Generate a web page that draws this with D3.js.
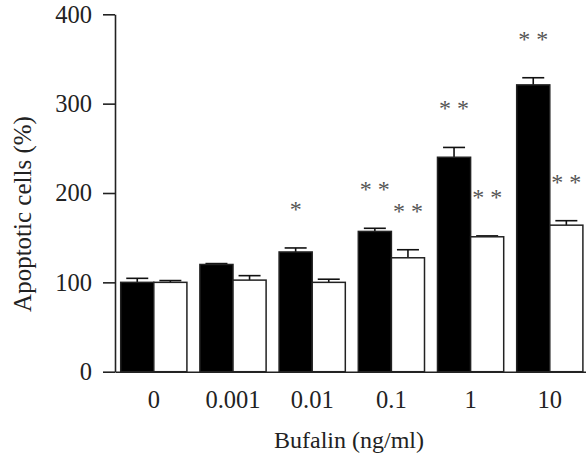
<!DOCTYPE html>
<html>
<head>
<meta charset="utf-8">
<script src="https://cdn.jsdelivr.net/npm/d3@7"></script>
<style>
  body { margin: 0; background: #fff; }
  svg text { font-family: "Liberation Serif", "Times New Roman", serif; fill: #222; }
</style>
</head>
<body>
<div id="chart"></div>
<script>
// Bufalin doses (x categories)
const doses = ["0", "0.001", "0.01", "0.1", "1", "10"];
const series = ["black", "white"];

// Apoptotic cells (%), mean and upper error
const blackValues = [100, 120, 134, 157, 240, 321];
const blackErrors = [4.5, 1, 4.5, 3.5, 11, 8];
const whiteValues = [100, 102.5, 100, 127.5, 151, 164];
const whiteErrors = [2, 5, 3.5, 9, 1, 5];

// significance marks above each bar
const blackStars = ["", "", "*", "* *", "* *", "* *"];
const whiteStars = ["", "", "", "* *", "* *", "* *"];

const yTicks = [0, 100, 200, 300, 400];

const width = 586;
const height = 456;

const svg = d3.select("#chart")
  .append("svg")
  .attr("width", width)
  .attr("height", height);

const x = d3.scaleBand()
  .domain(doses)
  .range([115, 588.6])
  .paddingInner(0.164)
  .paddingOuter(0.072);

const xInner = d3.scaleBand()
  .domain(series)
  .range([0, x.bandwidth()]);

const y = d3.scaleLinear()
  .domain([0, 400])
  .range([371.7, 14.3]);

// build rows for the bars
const rows = [];
doses.forEach((d, i) => {
  rows.push({ dose: d, s: "black", v: blackValues[i], e: blackErrors[i], star: blackStars[i] });
  rows.push({ dose: d, s: "white", v: whiteValues[i], e: whiteErrors[i], star: whiteStars[i] });
});

const barX = (d) => x(d.dose) + xInner(d.s);
const bw = xInner.bandwidth();

// error bars (upper only)
const err = svg.append("g")
  .attr("stroke", "#111")
  .attr("stroke-width", 1.6);

err.selectAll("line.stem")
  .data(rows)
  .enter()
  .append("line")
  .attr("x1", (d) => barX(d) + bw / 2)
  .attr("x2", (d) => barX(d) + bw / 2)
  .attr("y1", (d) => y(d.v))
  .attr("y2", (d) => y(d.v + d.e));

err.selectAll("line.cap")
  .data(rows)
  .enter()
  .append("line")
  .attr("x1", (d) => barX(d) + bw / 2 - 11)
  .attr("x2", (d) => barX(d) + bw / 2 + 11)
  .attr("y1", (d) => y(d.v + d.e))
  .attr("y2", (d) => y(d.v + d.e));

// bars
svg.append("g")
  .selectAll("rect")
  .data(rows)
  .enter()
  .append("rect")
  .attr("x", (d) => barX(d))
  .attr("y", (d) => y(d.v))
  .attr("width", bw)
  .attr("height", (d) => y(0) - y(d.v))
  .attr("fill", (d) => (d.s === "black" ? "#000" : "#fff"))
  .attr("stroke", "#222")
  .attr("stroke-width", 1.5);

// asterisks
svg.append("g")
  .selectAll("text")
  .data(rows.filter((d) => d.star))
  .enter()
  .append("text")
  .attr("x", (d) => barX(d) + bw / 2)
  .attr("y", (d) => y(d.v + d.e) - 31)
  .attr("text-anchor", "middle")
  .style("font-size", "24px")
  .style("fill", "#555")
  .text((d) => d.star);

// y axis
const yAxis = svg.append("g")
  .attr("transform", "translate(115,0)")
  .call(d3.axisLeft(y).tickValues(yTicks).tickSize(12).tickSizeOuter(0).tickPadding(11));

// x axis
const xAxis = svg.append("g")
  .attr("transform", `translate(0,${y(0)})`)
  .call(d3.axisBottom(x).tickSize(0).tickSizeOuter(0).tickPadding(19));

[yAxis, xAxis].forEach((g) => {
  g.selectAll("path, line").attr("stroke", "#222").attr("stroke-width", 1.6);
  g.selectAll("text").style("font-size", "24.5px").style("font-family", "'Liberation Serif', serif").attr("fill", "#222");
});

// axis titles
svg.append("text")
  .attr("transform", "translate(31,214) rotate(-90)")
  .attr("text-anchor", "middle")
  .style("font-size", "25px")
  .text("Apoptotic cells (%)");

svg.append("text")
  .attr("x", 349)
  .attr("y", 448)
  .attr("text-anchor", "middle")
  .style("font-size", "24px")
  .text("Bufalin (ng/ml)");
</script>
</body>
</html>
